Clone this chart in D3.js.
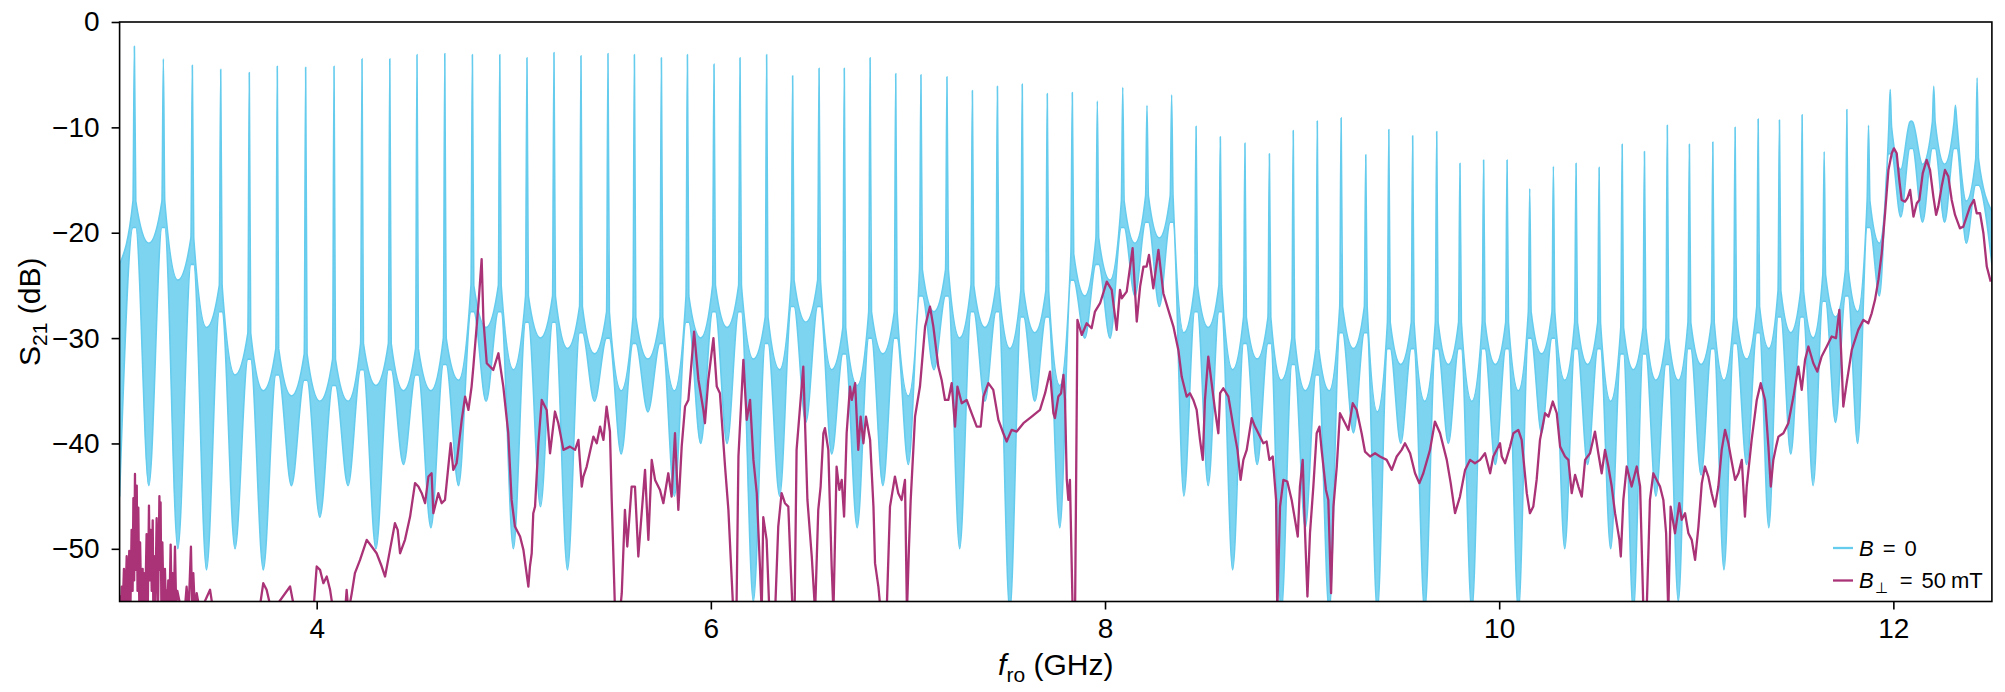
<!DOCTYPE html>
<html><head><meta charset="utf-8">
<script src="https://cdn.jsdelivr.net/npm/d3@7"></script>
<style>
body{margin:0;background:#fff}
text{font-family:"Liberation Sans",Arial,Helvetica,sans-serif;fill:#000}
</style>
</head><body>
<svg id="chart" width="2005" height="692"></svg>
<script>
// ---------------- data ----------------
// B = 0 trace: resonance peaks (GHz, dB)
const peakGHz = [
 3.075,3.222,3.369,3.513,3.658,3.800,3.944,4.088,4.230,4.371,
 4.509,4.650,4.790,4.929,5.067,5.204,5.341,5.478,5.612,5.749,
 5.881,6.016,6.148,6.283,6.415,6.549,6.677,6.808,6.938,7.066,
 7.198,7.327,7.454,7.580,7.707,7.834,7.961,8.090,8.213,8.338,
 8.462,8.585,8.710,8.834,8.955,9.077,9.198,9.323,9.440,9.561,
 9.683,9.801,9.921,10.040,10.155,10.275,10.390,10.507,10.624,10.737,
 10.853,10.965,11.084,11.197,11.314,11.422,11.537,11.649,11.764,11.874,
 11.984,12.091,12.205,12.315,12.425];
const peakDb = [
 -2.3,-3.5,-4.1,-4.5,-4.8,-4.2,-4.3,-4.2,-3.5,-3.5,
 -3.1,-3.0,-3.1,-3.1,-3.4,-2.9,-3.2,-3.0,-3.1,-3.4,
 -3.1,-4.0,-3.4,-3.1,-5.1,-4.4,-4.4,-3.4,-4.9,-5.0,
 -5.2,-6.5,-6.1,-5.9,-6.8,-6.7,-7.5,-6.2,-7.9,-6.9,
 -9.9,-10.9,-11.5,-12.5,-10.3,-9.4,-9.1,-12.6,-10.2,-10.8,
 -10.4,-13.4,-13.1,-13.1,-15.8,-13.7,-13.4,-13.8,-11.6,-12.3,
 -9.8,-11.6,-11.4,-10.0,-9.2,-9.3,-8.8,-12.3,-8.3,-9.8,
 -6.4,-9.4,-6.1,-7.9,-5.3];
// B = 0 trace: noisy floor between peaks, upper / lower edge (dB), gap 0 .. gap 75
const gapHiDb = [
 -23,-21,-24.5,-29,-33.5,-35,-35.5,-36,-36,-34.5,
 -35,-35,-34,-29,-33,-30,-31,-31.5,-35,-32,
 -35,-30,-29,-32,-33,-28.5,-33,-34.5,-31.5,-35.5,
 -27.5,-30,-29,-31,-29.5,-34.5,-26,-24.5,-21,-20.5,
 -29.5,-29,-33,-32,-34,-35,-35,-31,-37,-32.5,
 -36,-32.5,-36,-32.5,-35,-31.5,-34,-32.5,-36,-33,
 -34,-34,-32.5,-34,-32,-31,-29.5,-30,-28,-27.5,
 -21,-14,-13.5,-13.5,-17,-18];
const gapLoDb = [
 -45,-44,-50,-52,-50,-52,-44,-47,-44,-50,
 -42,-48,-44,-36,-50,-46,-52,-36,-41,-37,
 -45,-40,-40,-55,-45,-38,-41,-48,-44,-42,
 -33,-50,-36,-56,-36,-48,-30,-30,-26,-27,
 -45,-44,-52,-42,-56,-48,-56,-39,-56,-40,
 -56,-40,-56,-42,-56,-39,-50,-42,-50,-56,
 -45,-55,-43,-52,-42,-48,-41,-44,-38,-40,
 -26,-18.5,-19,-19,-21,-23];

// B_perp = 50 mT trace (GHz, dB)
const fieldGHz = [
 3.000,3.005,3.008,3.011,3.016,3.022,3.029,3.036,3.042,3.049,3.055,3.061,3.066,3.070,3.074,3.078,
 3.082,3.087,3.091,3.095,3.100,3.104,3.110,3.117,3.120,3.124,3.130,3.137,3.143,3.149,3.153,3.158,
 3.163,3.168,3.171,3.175,3.181,3.188,3.195,3.202,3.205,3.208,3.212,3.217,3.223,3.230,3.235,3.239,
 3.243,3.247,3.253,3.259,3.264,3.269,3.275,3.281,3.287,3.293,3.315,3.332,3.340,3.350,3.362,3.368,
 3.374,3.382,3.391,3.408,
 3.459,3.476,3.700,3.729,3.746,3.772,3.865,3.890,3.983,4.000,4.017,4.034,4.051,4.068,4.085,4.144,
 4.152,4.161,4.178,4.194,4.220,4.254,4.279,4.304,4.330,4.347,4.372,4.397,4.411,4.423,4.448,4.474,
 4.499,4.516,4.533,4.550,4.567,4.583,4.592,4.617,4.634,4.651,4.668,4.680,4.693,4.710,4.736,4.753,
 4.770,4.786,4.795,4.820,4.837,4.846,4.863,4.879,4.896,4.922,4.947,4.972,4.989,5.006,5.032,5.049,
 5.074,5.082,5.091,5.099,5.108,5.125,5.142,5.167,5.184,
 5.209,5.226,5.252,5.285,5.311,5.328,5.345,5.353,5.370,5.404,5.421,5.438,5.455,5.471,5.488,5.497,
 5.514,5.539,5.548,5.564,5.576,5.598,5.615,5.632,5.649,5.666,5.683,5.700,5.717,5.742,5.759,5.784,
 5.801,5.818,5.835,5.852,5.869,5.886,5.915,5.937,5.962,5.970,5.987,6.013,6.030,6.046,6.072,6.089,
 6.106,6.114,6.130,6.140,6.165,6.182,6.199,6.216,6.233,6.249,6.258,6.266,6.283,6.297,6.326,6.342,
 6.359,6.376,6.393,6.405,6.415,6.425,6.435,6.469,6.490,6.512,6.529,6.545,6.557,6.571,6.579,6.596,
 6.613,6.622,6.638,6.652,6.664,6.676,6.689,6.706,6.715,6.732,6.748,6.760,6.774,6.787,6.808,6.825,
 6.833,6.850,6.862,6.892,6.909,6.934,6.951,6.968,6.985,6.995,7.005,7.014,7.036,7.061,7.087,7.112,
 7.129,7.154,7.171,7.188,7.205,7.222,7.239,7.251,7.273,7.298,7.323,7.349,7.369,7.383,7.408,7.433,
 7.459,7.484,7.501,7.526,7.552,7.586,7.628,7.670,7.696,7.721,
 7.738,7.746,7.763,7.777,7.789,7.797,7.806,7.814,7.822,7.836,7.848,7.860,7.882,7.907,7.932,7.949,
 7.975,8.009,8.034,8.059,8.076,8.085,8.110,8.140,8.161,8.178,8.195,8.211,8.223,8.245,8.271,8.296,
 8.321,8.347,8.372,8.389,8.414,8.431,8.448,8.465,8.482,8.496,8.507,8.524,8.541,8.558,8.575,8.584,
 8.600,8.626,8.651,8.672,8.688,8.702,8.719,8.744,8.761,8.778,8.803,8.820,8.834,8.851,8.868,8.874,
 8.888,8.905,8.925,8.947,8.964,8.978,8.989,9.003,9.015,9.027,9.040,9.057,9.074,9.088,9.099,9.121,
 9.133,9.147,9.159,9.176,9.192,9.218,9.235,9.257,9.277,9.302,9.319,9.345,9.370,9.395,9.429,9.455,
 9.480,9.505,9.522,9.548,9.573,9.595,9.615,9.649,9.674,9.700,9.734,9.754,9.776,9.801,9.827,9.852,
 9.877,9.903,9.928,9.954,9.970,10.004,
 10.013,10.030,10.055,10.072,10.097,10.114,10.140,10.156,10.173,10.190,10.207,10.233,10.250,10.272,10.292,10.309,
 10.334,10.351,10.368,10.385,10.402,10.419,10.436,10.461,10.486,10.503,10.520,10.537,10.554,10.571,10.588,10.610,
 10.617,10.630,10.647,10.672,10.698,10.715,10.732,10.748,10.765,10.782,10.799,10.816,10.833,10.847,10.858,10.870,
 10.892,10.914,10.926,10.943,10.960,10.977,10.994,11.011,11.028,11.044,11.061,11.078,11.095,11.112,11.129,11.146,
 11.163,11.175,11.197,11.214,11.231,11.247,11.256,11.281,11.307,11.327,11.349,11.366,11.378,11.391,11.405,11.417,
 11.442,11.467,11.493,11.518,11.535,11.552,11.569,11.594,11.614,11.636,11.662,11.687,11.709,11.726,11.738,11.746,
 11.763,11.789,11.822,11.848,11.873,11.890,11.907,11.924,11.941,11.958,11.975,11.992,12.003,12.017,12.030,12.042,
 12.059,12.071,12.085,12.102,12.119,12.132,12.149,12.169,12.186,12.203,12.217,12.228,12.245,12.262,12.279,12.296,
 12.313,12.338,12.355,12.372,12.389,12.409,12.423,12.440,12.457,12.474,12.494];
const fieldDb = [
 -55.5,-54.5,-55.5,-53.6,-55.5,-51.9,-55.5,-50.7,-55.5,-50.2,-55.5,-48.2,-54.0,-45.2,-53.0,-42.9,
 -52.0,-44.0,-54.0,-46.1,-55.5,-49.4,-55.5,-51.9,-55.5,-52.3,-55.5,-48.6,-55.5,-45.9,-53.0,-48.2,
 -54.0,-47.3,-55.5,-50.7,-55.5,-47.1,-55.5,-45.0,-52.0,-45.6,-55.5,-49.4,-55.5,-51.9,-55.5,-54.0,
 -55.5,-53.0,-55.5,-49.6,-55.5,-52.3,-55.5,-49.8,-55.5,-54.0,-56,-55.5,-53.6,-56,-49.8,-55.5,
 -52.3,-56,-54.2,-56,
 -53.89,-56,-57,-53.26,-53.89,-56,-53.58,-56,-56,-51.68,-52.00,-53.26,-52.63,-53.89,-56,-56,
 -53.89,-56,-54.21,-52.31,-51.05,-49.15,-49.78,-50.42,-51.68,-52.63,-50.10,-47.57,-48.20,-50.42,-49.15,-46.94,
 -43.77,-44.09,-44.72,-45.67,-43.14,-42.83,-46.62,-44.72,-45.67,-45.36,-42.19,-39.98,-42.51,-41.88,-37.76,-35.55,
 -36.82,-34.60,-32.70,-27.0,-22.5,-28.28,-32.39,-32.70,-33.02,-31.44,-34.60,-39.03,-45.36,-47.89,-48.83,-50.10,
 -53.58,-51.68,-50.42,-46.62,-45.99,-39.98,-35.87,-36.82,-40.93,
 -36.97,-38.08,-40.61,-40.30,-40.61,-39.66,-44.09,-43.14,-42.19,-39.35,-39.98,-38.40,-39.66,-36.50,-38.87,-45.36,
 -56,-56,-54.21,-46.30,-49.78,-44.09,-44.09,-50.73,-46.62,-42.51,-49.15,-41.56,-43.46,-44.41,-45.67,-42.83,
 -45.04,-39.03,-46.30,-40.30,-36.50,-35.87,-29.38,-33.97,-36.82,-38.08,-33.97,-30.01,-34.60,-35.23,-42.19,-46.30,
 -52.94,-56,-56,-41.24,-32.07,-37.76,-35.87,-41.56,-44.72,-51.68,-56,-47.0,-49.15,-56,-56,-47.89,
 -44.72,-45.67,-45.99,-51.68,-56,-56,-40.61,-32.70,-45.36,-50.73,-56,-46.30,-44.09,-39.03,-38.55,-40.61,
 -51.68,-56,-42.19,-44.41,-43.46,-46.94,-39.03,-34.60,-35.87,-34.28,-40.61,-37.45,-39.98,-37.45,-39.66,-45.99,
 -51.36,-53.58,-56,-56,-45.99,-43.14,-44.72,-45.36,-43.46,-56,-50,-45.36,-37.45,-34.60,-28.91,-27.01,
 -28.91,-32.70,-33.97,-35.87,-35.87,-34.28,-38.40,-34.60,-36.18,-35.87,-37.13,-38.40,-38.40,-35.55,-34.28,-34.92,
 -37.76,-39.03,-39.82,-38.71,-38.87,-38.08,-37.45,-36.82,-35.23,-33.18,
 -37.13,-37.6,-35.55,-35.23,-33.49,-35.87,-43.46,-45.36,-43.46,-56,-56,-28.27,-29.70,-28.59,-29.06,-27.48,
 -26.69,-24.64,-25.43,-29.22,-25.43,-26.22,-25.59,-21.47,-28.43,-25.11,-23.21,-23.21,-22.11,-25.27,-21.63,-25.74,
 -27.32,-28.91,-31.12,-33.65,-35.55,-35.23,-35.87,-36.82,-39.66,-41.56,-35.87,-31.75,-34.28,-36.82,-39.03,-35.23,
 -34.76,-35.55,-38.40,-40.61,-43.46,-41.56,-40.61,-37.6,-38.40,-39.03,-39.98,-39.82,-41.56,-41.24,-45.36,-56,
 -45.99,-43.46,-43.61,-45.36,-47.25,-48.83,-44.09,-41.56,-48.52,-54.53,-48.52,-44.09,-39.03,-38.40,-40.61,-44.41,
 -45.36,-54.21,-45.99,-42.19,-37.13,-38.08,-38.71,-36.18,-36.82,-39.03,-40.77,-41.24,-40.93,-41.24,-41.56,-42.51,
 -41.24,-40.61,-39.98,-40.93,-42.83,-43.77,-42.83,-40.61,-37.92,-39.03,-41.56,-43.77,-46.62,-45.04,-42.51,-41.56,
 -41.88,-41.56,-40.93,-42.83,-41.24,-39.98,
 -41.24,-41.88,-40.30,-39.03,-38.71,-39.66,-44.72,-46.62,-45.99,-43.46,-39.66,-37.13,-37.45,-36.02,-37.13,-40.30,
 -41.24,-41.56,-44.72,-42.98,-44.09,-45.04,-41.56,-40.93,-38.87,-40.93,-42.83,-40.61,-42.19,-44.09,-46.62,-49.15,
 -50.73,-45.36,-42.19,-44.09,-42.19,-44.09,-56,-56,-45.36,-42.83,-43.46,-44.09,-45.36,-48.52,-56,-45.99,
 -48.52,-45.67,-47.25,-46.62,-48.52,-49.15,-51.05,-47.89,-43.77,-42.19,-43.14,-44.72,-45.99,-44.09,-40.61,-38.71,
 -39.98,-41.24,-43.46,-42.83,-41.56,-46.94,-44.09,-39.66,-35.87,-34.28,-35.87,-40.30,-44.09,-41.56,-40.30,-39.35,
 -39.03,-38.08,-35.55,-32.70,-34.92,-32.07,-30.80,-32.39,-33.18,-31.75,-30.80,-29.85,-30.01,-27.33,-32.70,-36.50,
 -34.28,-31.12,-29.22,-28.27,-28.59,-27.65,-26.37,-24.48,-21.95,-18.15,-14.04,-12.46,-11.99,-12.46,-14.99,-16.89,
 -17.05,-16.73,-15.94,-18.47,-17.20,-16.89,-14.36,-13.09,-14.04,-16.57,-18.31,-17.52,-15.62,-14.04,-14.67,-16.89,
 -18.31,-19.58,-19.42,-18.47,-17.52,-16.89,-18.15,-18.15,-20.05,-23.21,-24.64];

const xDomain = [3, 12.5];
const yDomain = [-55, 0];
const xTicks = [4, 6, 8, 10, 12];
const yTicks = [0, -10, -20, -30, -40, -50];
const colorZero = "#66CCEE";
const colorField = "#AA3377";

// ---------------- layout ----------------
const svg = d3.select("#chart");
const m = {left: 119.6, right: 1991.9, top: 22, bottom: 601.5};
const x = d3.scaleLinear().domain(xDomain).range([m.left, m.right]);
const y = d3.scaleLinear().domain(yDomain).range([m.bottom, m.top]);

svg.append("clipPath").attr("id", "plotclip")
  .append("rect").attr("x", m.left).attr("y", m.top)
  .attr("width", m.right - m.left).attr("height", m.bottom - m.top);

const plot = svg.append("g").attr("clip-path", "url(#plotclip)");

// B = 0 band (peaks + noisy floor envelope)
const pxPerGHz = x(4) - x(3);
const dF = 1.4 / pxPerGHz;
const flankRise = 4, flankWidth = 2.5;
const band = [{f: xDomain[0], hi: gapHiDb[0], lo: gapLoDb[0]}];
peakGHz.forEach((f, i) => {
  const sh = Math.min(peakDb[i], Math.max(gapHiDb[i], gapHiDb[i + 1]) + flankRise);
  band.push({f: f - dF, hi: sh, lo: sh - flankWidth});
  band.push({f: f, hi: peakDb[i], lo: sh - flankWidth});
  band.push({f: f + dF, hi: sh, lo: sh - flankWidth});
  const mid = i + 1 < peakGHz.length ? (f + peakGHz[i + 1]) / 2 : xDomain[1];
  band.push({f: mid, hi: gapHiDb[i + 1], lo: gapLoDb[i + 1]});
});

const area = d3.area().curve(d3.curveMonotoneX)
  .x(d => x(d.f)).y0(d => y(d.lo)).y1(d => y(d.hi));
plot.append("path").datum(band).attr("d", area)
  .attr("fill", colorZero).attr("fill-opacity", 0.85)
  .attr("stroke", colorZero).attr("stroke-width", 1.6).attr("stroke-linejoin", "round");

// B_perp = 50 mT line
const fieldData = fieldGHz.map((f, i) => ({f, v: fieldDb[i]}));
const line = d3.line().x(d => x(d.f)).y(d => y(d.v));
plot.append("path").datum(fieldData).attr("d", line)
  .attr("fill", "none").attr("stroke", colorField)
  .attr("stroke-width", 2.3).attr("stroke-linejoin", "round");

// axes
const xAxis = svg.append("g").attr("transform", `translate(0,${m.bottom})`)
  .call(d3.axisBottom(x).tickValues(xTicks).tickSize(8).tickPadding(9).tickSizeOuter(0));
const yAxis = svg.append("g").attr("transform", `translate(${m.left},0)`)
  .call(d3.axisLeft(y).tickValues(yTicks).tickSize(8).tickPadding(12).tickSizeOuter(0));
[xAxis, yAxis].forEach(g => {
  g.select(".domain").remove();
  g.selectAll("line").attr("stroke", "#000").attr("stroke-width", 1.6);
  g.selectAll("text").attr("font-size", 28).attr("fill", "#000")
    .style("font-family", '"Liberation Sans", Arial, sans-serif');
});

// frame
svg.append("rect").attr("x", m.left).attr("y", m.top)
  .attr("width", m.right - m.left).attr("height", m.bottom - m.top)
  .attr("fill", "none").attr("stroke", "#000").attr("stroke-width", 1.6);

// axis labels
const xl = svg.append("text").attr("x", (m.left + m.right) / 2).attr("y", 675)
  .attr("text-anchor", "middle").attr("font-size", 30);
xl.append("tspan").attr("font-style", "italic").text("f");
xl.append("tspan").attr("font-size", 21).attr("dy", 7).text("ro");
xl.append("tspan").attr("dy", -7).text(" (GHz)");

const yl = svg.append("text")
  .attr("transform", `translate(40,${(m.top + m.bottom) / 2}) rotate(-90)`)
  .attr("text-anchor", "middle").attr("font-size", 30);
yl.append("tspan").text("S");
yl.append("tspan").attr("font-size", 21).attr("dy", 7).text("21");
yl.append("tspan").attr("dy", -7).text(" (dB)");

// legend
const legend = [
  {color: colorZero, sub: "", val: "0", unit: ""},
  {color: colorField, sub: "\u22A5", val: "50", unit: "mT"}
];
legend.forEach((d, i) => {
  const ly = 548 + i * 32.5;
  svg.append("line").attr("x1", 1833).attr("x2", 1853).attr("y1", ly).attr("y2", ly)
    .attr("stroke", d.color).attr("stroke-width", 2.3);
  const t = svg.append("text").attr("x", 1859).attr("y", ly + 7.5).attr("font-size", 22);
  t.append("tspan").attr("font-style", "italic").text("B");
  if (d.sub) {
    t.append("tspan").attr("font-size", 15).attr("dy", 5).attr("dx", 1).text(d.sub);
    t.append("tspan").attr("dy", -5).attr("dx", 12).text("=");
  } else {
    t.append("tspan").attr("dx", 9).text("=");
  }
  t.append("tspan").attr("dx", 9).text(d.val);
  if (d.unit) t.append("tspan").attr("dx", 5).text(d.unit);
});
</script>
</body></html>
